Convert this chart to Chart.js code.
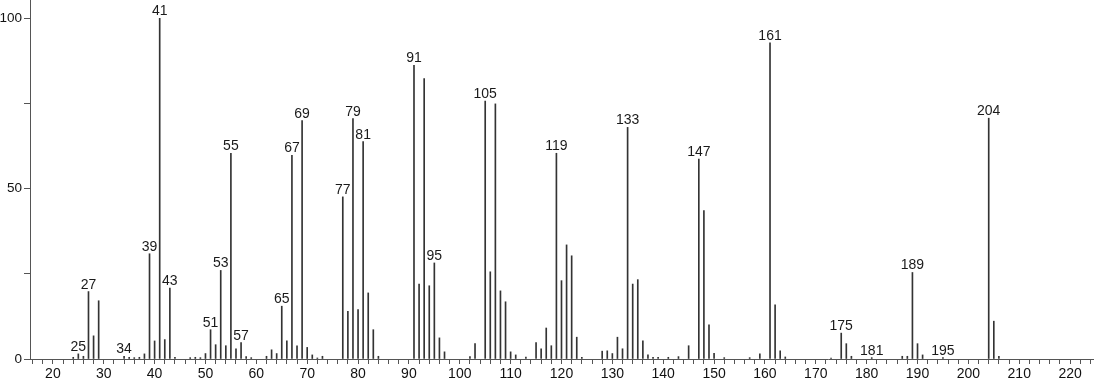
<!DOCTYPE html>
<html>
<head>
<meta charset="utf-8">
<script src="https://cdn.jsdelivr.net/npm/chart.js@4.4.1/dist/chart.umd.min.js"></script>
<style>
  html, body { margin: 0; padding: 0; background: #fff; }
  #wrap { width: 1094px; height: 384px; position: relative; }
</style>
</head>
<body>
<div id="wrap"><canvas id="spectrum"></canvas></div>
<script>
// m/z values and relative intensities
const mz = [
  24, 25, 26, 27, 28, 29, 34, 35, 36, 37, 38, 39, 40, 41, 42, 43, 44, 47, 48, 49,
  50, 51, 52, 53, 54, 55, 56, 57, 58, 59, 62, 63, 64, 65, 66, 67, 68, 69, 70, 71,
  72, 73, 77, 78, 79, 80, 81, 82, 83, 84, 91, 92, 93, 94, 95, 96, 97, 102, 103, 105,
  106, 107, 108, 109, 110, 111, 113, 115, 116, 117, 118, 119, 120, 121, 122, 123, 124, 128, 129, 130,
  131, 132, 133, 134, 135, 136, 137, 138, 139, 141, 143, 145, 147, 148, 149, 150, 152, 157, 159, 161,
  162, 163, 164, 173, 175, 176, 177, 181, 187, 188, 189, 190, 191, 195, 204, 205, 206
];
const intensity = [
  0.5, 1.5, 0.8, 19.8, 6.8, 17.1, 0.8, 0.5, 0.4, 0.5, 1.5, 30.9, 5.3, 100, 5.7, 20.8, 0.5, 0.4, 0.5, 0.4,
  1.6, 8.6, 4.2, 26.0, 3.9, 60.4, 3.0, 4.8, 0.7, 0.4, 0.8, 2.7, 1.6, 15.5, 5.3, 59.8, 3.9, 70.0, 3.4, 1.2,
  0.3, 0.8, 47.6, 14.0, 70.6, 14.5, 63.8, 19.4, 8.6, 0.8, 86.2, 22.0, 82.3, 21.5, 28.2, 6.2, 2.1, 0.7, 4.5, 75.7,
  25.6, 74.9, 20.0, 16.8, 2.1, 1.2, 0.6, 4.8, 3.0, 9.1, 3.9, 60.4, 23.0, 33.5, 30.3, 6.4, 0.5, 2.3, 2.4, 1.6,
  6.4, 3.0, 68.0, 22.0, 23.3, 5.3, 1.2, 0.5, 0.5, 0.5, 0.7, 3.9, 58.7, 43.6, 10.0, 1.7, 0.4, 0.4, 1.5, 92.8,
  15.9, 2.4, 0.6, 0.3, 7.6, 4.5, 0.8, 0.4, 0.8, 0.8, 25.4, 4.5, 1.2, 0.4, 70.7, 11.1, 0.8
];
// peaks that carry their m/z as a label
const labelledPeaks = [
  25, 27, 34, 39, 41, 43, 51, 53, 55, 57, 65, 67, 69, 77, 79, 81, 91, 95,
  105, 119, 133, 147, 161, 175, 181, 189, 195, 204
];
const xTickLabels = [20, 30, 40, 50, 60, 70, 80, 90, 100, 110, 120, 130, 140, 150, 160, 170, 180, 190, 200, 210, 220];
const yTickLabels = [0, 50, 100];
const yTicks = [0, 25, 50, 75, 100];

const FONT = '"Liberation Sans", Arial, Helvetica, sans-serif';
const AXIS = "#555";

const xTicks = [];
for (let v = 16; v <= 224; v += 2) xTicks.push(v);

function noPadding(scale) {
  scale.paddingTop = 0;
  scale.paddingBottom = 0;
  scale.paddingLeft = 0;
  scale.paddingRight = 0;
}

const peakLabels = {
  id: "peakLabels",
  afterDatasetsDraw(chart) {
    const meta = chart.getDatasetMeta(0);
    const ctx = chart.ctx;
    ctx.save();
    ctx.font = `14px ${FONT}`;
    ctx.fillStyle = "#1a1a1a";
    ctx.textAlign = "center";
    ctx.textBaseline = "alphabetic";
    labelledPeaks.forEach((m) => {
      const bar = meta.data[mz.indexOf(m)];
      if (bar) ctx.fillText(String(m), bar.x, bar.y - 3);
    });
    ctx.restore();
  },
};

new Chart(document.getElementById("spectrum"), {
  type: "bar",
  data: {
    datasets: [
      {
        data: mz.map((m, i) => ({ x: m, y: intensity[i] })),
        backgroundColor: "#333",
        borderWidth: 0,
        barThickness: 1,
      },
    ],
  },
  options: {
    responsive: true,
    maintainAspectRatio: false,
    animation: false,
    layout: { padding: 0 },
    plugins: { legend: { display: false }, tooltip: { enabled: false } },
    scales: {
      x: {
        type: "linear",
        min: 15.5,
        max: 224.7,
        offset: false,
        grid: { offset: false, drawOnChartArea: false, tickLength: 5, color: AXIS },
        border: { color: AXIS, width: 1 },
        afterBuildTicks: (scale) => {
          scale.ticks = xTicks.map((v) => ({ value: v }));
        },
        afterFit: (scale) => {
          scale.height = 25;
          noPadding(scale);
        },
        ticks: {
          autoSkip: false,
          maxRotation: 0,
          padding: 2,
          color: "#111",
          font: { family: FONT, size: 14 },
          callback: (v) => (xTickLabels.includes(v) ? String(v) : ""),
        },
      },
      y: {
        min: 0,
        max: 105.4,
        grid: { drawOnChartArea: false, tickLength: 6, color: AXIS },
        border: { color: AXIS, width: 1 },
        afterBuildTicks: (scale) => {
          scale.ticks = yTicks.map((v) => ({ value: v }));
        },
        afterFit: (scale) => {
          scale.width = 30;
          noPadding(scale);
        },
        ticks: {
          padding: 2,
          color: "#111",
          font: { family: FONT, size: 13.5 },
          callback: (v) => (yTickLabels.includes(v) ? String(v) : ""),
        },
      },
    },
  },
  plugins: [peakLabels],
});
</script>
</body>
</html>
